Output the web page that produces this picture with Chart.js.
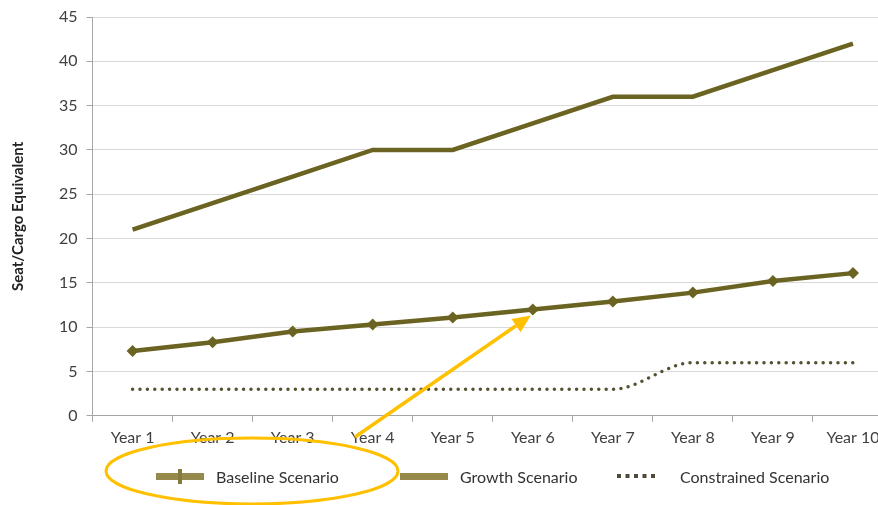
<!DOCTYPE html>
<html>
<head>
<meta charset="utf-8">
<script src="https://cdn.jsdelivr.net/npm/chart.js@4.4.1/dist/chart.umd.min.js"></script>
<style>
  html, body { margin: 0; padding: 0; background: #fff; overflow: hidden; }
  #wrap { position: relative; width: 878px; height: 505px; overflow: hidden; }
  #c { position: absolute; left: 0; top: 0; }
  .lg { position: absolute; top: 466px; height: 20px; display: flex; align-items: center;
        font-family: Lato, "Open Sans", sans-serif; font-size: 16px; color: #333; white-space: nowrap; }
  .lg canvas { margin-right: 12px; }
</style>
</head>
<body>
<div id="wrap">
  <canvas id="c" width="893" height="505"></canvas>
</div>
<script>
// ---- data ----
const categories = ["Year 1","Year 2","Year 3","Year 4","Year 5","Year 6","Year 7","Year 8","Year 9","Year 10"];
const seriesNames = ["Baseline Scenario", "Growth Scenario", "Constrained Scenario"];
const baseline    = [7.3, 8.3, 9.5, 10.3, 11.1, 12.0, 12.9, 13.9, 15.2, 16.1];
const growth      = [21, 24, 27, 30, 30, 33, 36, 36, 39, 42];
const constrained = [3, 3, 3, 3, 3, 3, 3, 6, 6, 6];
const yTicks = { min: 0, max: 45, step: 5 };
const yTitle = "Seat/Cargo Equivalent";

const OLIVE = "#6b6322";
const DOTS = "#55502f";
const ORANGE = "#FFC000";

// annotation plugin (orange ellipse + arrow pointing at the Year 6 baseline point)
const annot = {
  id: 'annot',
  afterDraw(chart) {
    const ctx = chart.ctx;
    const xs = chart.scales.x, ys = chart.scales.y;
    ctx.save();
    ctx.strokeStyle = ORANGE;
    ctx.fillStyle = ORANGE;
    ctx.lineWidth = 3;
    ctx.beginPath();
    ctx.ellipse(252, 471, 146, 33, 0, 0, Math.PI * 2);
    ctx.stroke();
    // arrow
    const tx = xs.getPixelForValue(5) - 2, ty = ys.getPixelForValue(baseline[5]) + 6;
    const sx = 355, sy = 437;
    const ang = Math.atan2(ty - sy, tx - sx);
    const hl = 18, hw = 8;
    const bx = tx - hl * Math.cos(ang), by = ty - hl * Math.sin(ang);
    ctx.lineWidth = 3.5;
    ctx.beginPath();
    ctx.moveTo(sx, sy);
    ctx.lineTo(bx, by);
    ctx.stroke();
    ctx.beginPath();
    ctx.moveTo(tx, ty);
    ctx.lineTo(bx + hw * Math.sin(ang), by - hw * Math.cos(ang));
    ctx.lineTo(bx - hw * Math.sin(ang), by + hw * Math.cos(ang));
    ctx.closePath();
    ctx.fill();
    ctx.restore();
  }
};

const fam = "Lato, 'Open Sans', sans-serif";

new Chart(document.getElementById('c'), {
  type: 'line',
  data: {
    labels: categories,
    datasets: [
      { label: seriesNames[0], data: baseline, borderColor: OLIVE, backgroundColor: OLIVE,
        borderWidth: 4.5, pointStyle: 'rectRot', pointRadius: 6, pointBackgroundColor: OLIVE,
        pointBorderColor: OLIVE, pointBorderWidth: 0, tension: 0 },
      { label: seriesNames[1], data: growth, borderColor: OLIVE, backgroundColor: OLIVE,
        borderWidth: 4.5, pointRadius: 0, tension: 0 },
      { label: seriesNames[2], data: constrained, borderColor: DOTS, backgroundColor: DOTS,
        borderWidth: 3.5, borderDash: [0, 7.4], borderCapStyle: 'round', pointRadius: 0,
        cubicInterpolationMode: 'monotone' }
    ]
  },
  options: {
    responsive: false,
    animation: false,
    layout: { autoPadding: false, padding: { top: 13, bottom: 52, left: 0, right: 0 } },
    plugins: { legend: { display: false }, tooltip: { enabled: false } },
    scales: {
      x: {
        offset: true,
        grid: { offset: true, drawOnChartArea: false, drawTicks: true, tickLength: 6, color: '#a6a6a6', tickColor: '#a6a6a6' },
        border: { color: '#a6a6a6', width: 1 },
        ticks: { color: '#404040', font: { family: fam, size: 16 }, padding: 6, maxRotation: 0, autoSkip: false }
      },
      y: {
        min: yTicks.min, max: yTicks.max,
        grid: { color: '#d9d9d9', tickColor: '#a6a6a6', tickLength: 6, lineWidth: 1 },
        border: { color: '#a6a6a6', width: 1 },
        ticks: { stepSize: yTicks.step, color: '#404040', font: { family: fam, size: 16, lineHeight: 1 }, padding: 9 },
        title: { display: true, text: yTitle, color: '#222',
                 font: { family: fam, size: 15, weight: 'bold' }, padding: { top: 9, bottom: 23 } }
      }
    }
  },
  plugins: [annot]
});

// legend (HTML)
function swatch(kind) {
  const cv = document.createElement('canvas');
  const w = kind === 2 ? 42 : 48;
  cv.width = w; cv.height = 18;
  const g = cv.getContext('2d');
  const col = '#958a4c';
  if (kind === 0 || kind === 1) {
    g.fillStyle = col;
    g.fillRect(0, 6, w, 7);
    if (kind === 0) {
      g.fillStyle = '#857a3d';
      g.fillRect(w / 2 - 2, 2, 4, 15);
    }
  } else {
    g.fillStyle = '#4f4b3a';
    for (let i = 0; i < 5; i++) g.fillRect(1 + i * 8.5, 7, 4, 4);
  }
  return cv;
}
const legendPos = [ { left: 156 }, { left: 400 }, { left: 616 } ];
const wrap = document.getElementById('wrap');
seriesNames.forEach((name, i) => {
  const d = document.createElement('div');
  d.className = 'lg';
  d.style.left = legendPos[i].left + 'px';
  const cv = swatch(i);
  if (i === 2) cv.style.marginRight = '22px';
  d.appendChild(cv);
  const s = document.createElement('span');
  s.textContent = name;
  d.appendChild(s);
  wrap.appendChild(d);
});
</script>
</body>
</html>
